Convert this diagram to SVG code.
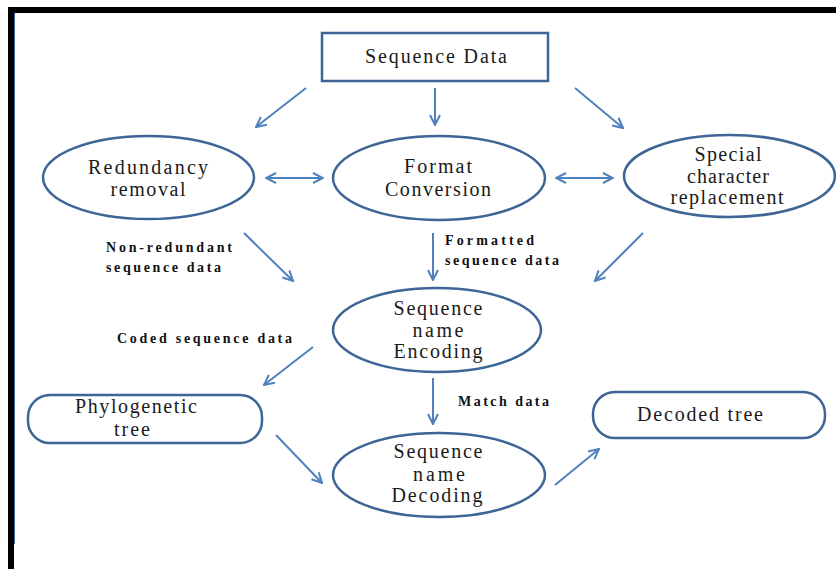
<svg xmlns="http://www.w3.org/2000/svg" width="836" height="569" viewBox="0 0 836 569">
<style>
.shape{fill:none;stroke:#3d6596;stroke-width:2.5}
.t{font-size:20px;fill:#1a1a1a;text-anchor:middle}
.lb{font-size:14px;font-weight:bold;fill:#111}
.c{fill:none;stroke:#4f81bd;stroke-width:2}
</style>
<defs>
<marker id="ah" viewBox="0 0 12 12" refX="11" refY="6" markerWidth="12" markerHeight="12" markerUnits="userSpaceOnUse" orient="auto-start-reverse">
<path d="M1,1 L11,6 L1,11" fill="none" stroke="#4f81bd" stroke-width="2"/>
</marker>
</defs>
<rect x="0" y="0" width="836" height="569" fill="#fff"/>
<g id="frame">
<rect x="8" y="7" width="828" height="6" fill="#000"/>
<rect x="8" y="7" width="6" height="562" fill="#000"/>
<line x1="14.5" y1="13" x2="14.5" y2="544" stroke="#3d6596" stroke-width="1"/>
</g>
<g id="connectors">
<line class="c" x1="306" y1="88" x2="256" y2="127" marker-end="url(#ah)"/>
<line class="c" x1="435" y1="88" x2="435" y2="125" marker-end="url(#ah)"/>
<line class="c" x1="575" y1="88" x2="623" y2="128" marker-end="url(#ah)"/>
<line class="c" x1="266" y1="178" x2="323" y2="178" marker-start="url(#ah)" marker-end="url(#ah)"/>
<line class="c" x1="556" y1="178" x2="613" y2="178" marker-start="url(#ah)" marker-end="url(#ah)"/>
<line class="c" x1="244" y1="233" x2="293" y2="281" marker-end="url(#ah)"/>
<line class="c" x1="433" y1="233" x2="433" y2="280" marker-end="url(#ah)"/>
<line class="c" x1="643" y1="233" x2="595" y2="281" marker-end="url(#ah)"/>
<line class="c" x1="313" y1="347" x2="264" y2="385" marker-end="url(#ah)"/>
<line class="c" x1="433" y1="378" x2="433" y2="424" marker-end="url(#ah)"/>
<line class="c" x1="276" y1="435" x2="322" y2="483" marker-end="url(#ah)"/>
<line class="c" x1="555" y1="485" x2="599" y2="449" marker-end="url(#ah)"/>
</g>
<g id="labels" font-family="Liberation Serif, Times New Roman, serif">
<text class="lb" x="106" y="252" textLength="126" lengthAdjust="spacing">Non-redundant</text>
<text class="lb" x="106" y="272" textLength="115" lengthAdjust="spacing">sequence data</text>
<text class="lb" x="445" y="245" textLength="89" lengthAdjust="spacing">Formatted</text>
<text class="lb" x="445" y="265" textLength="114" lengthAdjust="spacing">sequence data</text>
<text class="lb" x="117" y="343" textLength="175" lengthAdjust="spacing">Coded sequence data</text>
<text class="lb" x="458" y="406" textLength="91" lengthAdjust="spacing">Match data</text>
</g>
<g id="sequence-data" font-family="Liberation Serif, Times New Roman, serif">
<rect class="shape" x="322" y="33" width="226" height="48"/>
<text class="t" x="436" y="63" textLength="142" lengthAdjust="spacing">Sequence Data</text>
</g>
<g id="redundancy-removal" font-family="Liberation Serif, Times New Roman, serif">
<ellipse class="shape" cx="148.5" cy="177.5" rx="105.5" ry="41.5"/>
<text class="t" x="148" y="174" textLength="120" lengthAdjust="spacing">Redundancy</text>
<text class="t" x="148" y="196" textLength="75" lengthAdjust="spacing">removal</text>
</g>
<g id="format-conversion" font-family="Liberation Serif, Times New Roman, serif">
<ellipse class="shape" cx="439" cy="178" rx="106" ry="42"/>
<text class="t" x="438" y="173" textLength="68" lengthAdjust="spacing">Format</text>
<text class="t" x="438" y="196" textLength="106" lengthAdjust="spacing">Conversion</text>
</g>
<g id="special-character-replacement" font-family="Liberation Serif, Times New Roman, serif">
<ellipse class="shape" cx="729.5" cy="176" rx="105.5" ry="41"/>
<text class="t" x="728" y="161" textLength="67" lengthAdjust="spacing">Special</text>
<text class="t" x="728" y="183" textLength="82" lengthAdjust="spacing">character</text>
<text class="t" x="727" y="204" textLength="113" lengthAdjust="spacing">replacement</text>
</g>
<g id="sequence-name-encoding" font-family="Liberation Serif, Times New Roman, serif">
<ellipse class="shape" cx="437" cy="330" rx="104" ry="42"/>
<text class="t" x="438" y="315" textLength="89" lengthAdjust="spacing">Sequence</text>
<text class="t" x="438" y="337" textLength="51" lengthAdjust="spacing">name</text>
<text class="t" x="438" y="358" textLength="89" lengthAdjust="spacing">Encoding</text>
</g>
<g id="sequence-name-decoding" font-family="Liberation Serif, Times New Roman, serif">
<ellipse class="shape" cx="439" cy="475" rx="106" ry="42"/>
<text class="t" x="438" y="458" textLength="89" lengthAdjust="spacing">Sequence</text>
<text class="t" x="439" y="481" textLength="52" lengthAdjust="spacing">name</text>
<text class="t" x="437" y="502" textLength="91" lengthAdjust="spacing">Decoding</text>
</g>
<g id="phylogenetic-tree" font-family="Liberation Serif, Times New Roman, serif">
<rect class="shape" x="28" y="395" width="234" height="48" rx="22" ry="22"/>
<text class="t" x="136" y="413" textLength="122" lengthAdjust="spacing">Phylogenetic</text>
<text class="t" x="132" y="436" textLength="36" lengthAdjust="spacing">tree</text>
</g>
<g id="decoded-tree" font-family="Liberation Serif, Times New Roman, serif">
<rect class="shape" x="593" y="392" width="232" height="46" rx="22" ry="22"/>
<text class="t" x="700" y="421" textLength="126" lengthAdjust="spacing">Decoded tree</text>
</g>
</svg>
